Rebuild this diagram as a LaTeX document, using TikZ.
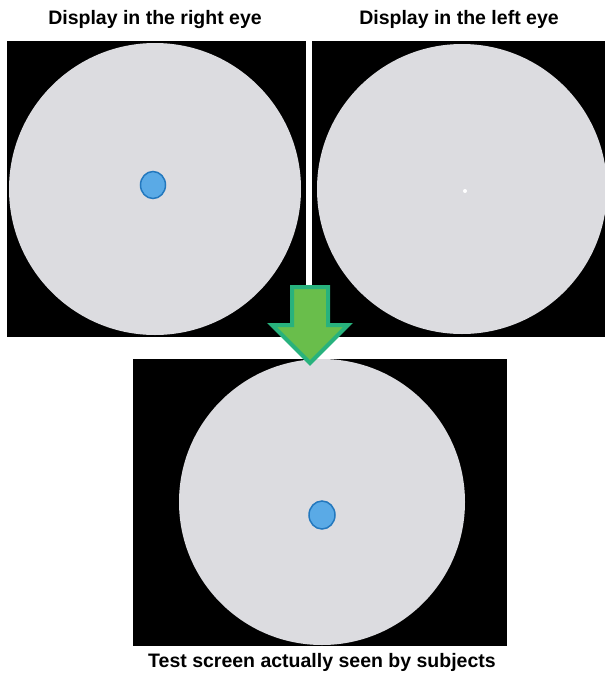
\documentclass[tikz,border=0pt]{standalone}
\usepackage{fontspec}
\setmainfont{Liberation Sans}
\usetikzlibrary{positioning}
\definecolor{screenGray}{RGB}{220,220,224}
\definecolor{dotBlue}{RGB}{90,170,230}
\definecolor{dotEdge}{RGB}{35,120,190}
\definecolor{arrowGreen}{RGB}{105,190,75}
\definecolor{arrowTeal}{RGB}{40,178,125}

\begin{document}
\begin{tikzpicture}[x=1pt, y=-1pt,
    lbl/.style={font=\bfseries\fontsize{19.5}{22}\selectfont, inner sep=0pt},
    bluedot/.style={fill=dotBlue, draw=dotEdge, line width=1.5pt}]
  \useasboundingbox (0,0) rectangle (605,675);
  % top displays, one for each eye
  \foreach \xa/\xb/\cx/\r in {7/306/155/146, 312/605/462/145} {
    \fill[black] (\xa,41) rectangle (\xb,337);
    \begin{scope}
      \clip (\xa,41) rectangle (\xb,337);
      \fill[screenGray] (\cx,189) circle (\r);
    \end{scope}
  }
  % bottom display
  \fill[black] (133,359) rectangle (507,646);
  \begin{scope}
    \clip (133,359) rectangle (507,646);
    \fill[screenGray] (322,502) circle (143);
  \end{scope}
  % targets: blue dot on the right eye, white point on the left eye
  \fill[bluedot] (153,185) ellipse (12.5 and 13.5);
  \fill[white] (465,191) circle (2);
  \fill[bluedot] (322,515) ellipse (13 and 14);
  % fusion arrow
  \draw[fill=arrowGreen, draw=arrowTeal, line width=4pt, line join=miter]
    (292,287) -- (328,287) -- (328,325) -- (348,325) -- (310,363)
    -- (272,325) -- (292,325) -- cycle;
  % labels
  \node[lbl] (rightlbl) at (155,19) {Display in the right eye};
  \node[lbl] (leftlbl) at (459,19) {Display in the left eye};
  \node[lbl] (seenlbl) at (322,662) {Test screen actually seen by subjects};
\end{tikzpicture}
\end{document}
